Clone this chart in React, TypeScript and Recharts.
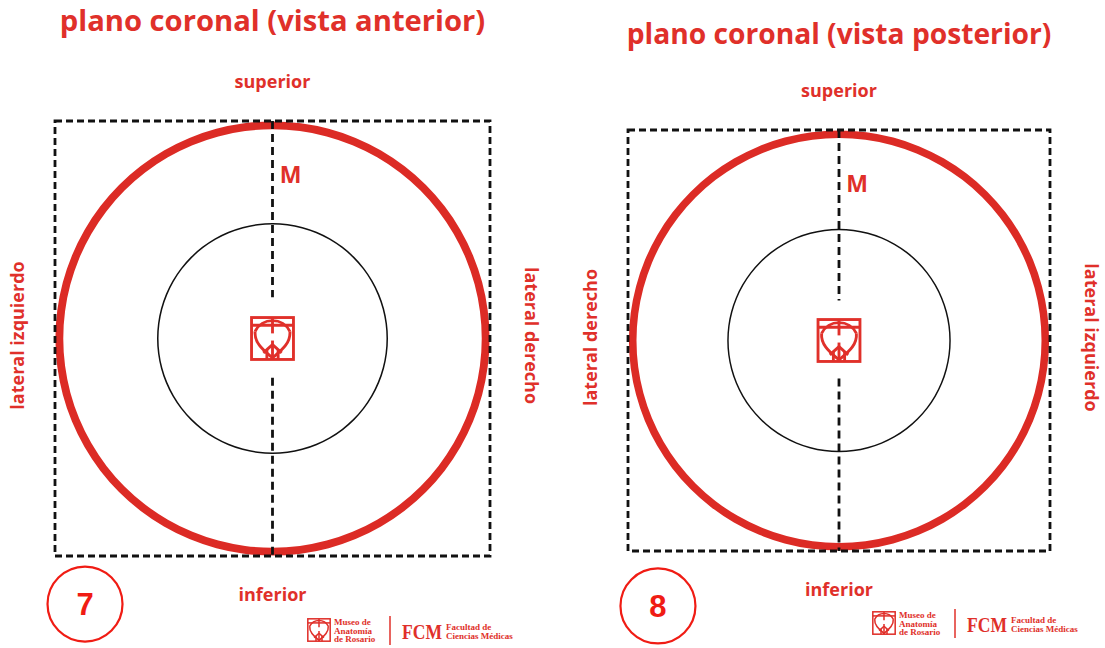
import {
  ComposedChart,
  XAxis,
  YAxis,
  ReferenceArea,
  ReferenceLine,
  ReferenceDot,
  Label,
  PieChart,
  Pie,
} from 'recharts';

const RED = '#e0302a';
const RING = '#dc2b25';
const BADGE = '#f01c14';
const INK = '#111111';
const SANS = '"Open Sans", "Noto Sans", sans-serif';
const SERIF = '"Liberation Serif", "DejaVu Serif", serif';

// two views of the same coronal plane
const titles = ['plano coronal (vista anterior)', 'plano coronal (vista posterior)'];
const plateNumbers = ['7', '8'];
const verticalLabels = ['superior', 'inferior'];
const sideLabels = [
  ['lateral izquierdo', 'lateral derecho'],
  ['lateral derecho', 'lateral izquierdo'],
];
const medianMark = 'M';

// plane in normalised units, box edge = ±1
const planeExtent = [-1, 1];
const medianGap = [0.19, -0.18]; // dashed median stops around the emblem
const ringShare = [{ v: 1 }]; // one full slice per ring

const museoLines = ['Museo de', 'Anatomía', 'de Rosario'];
const fcmLines = ['Facultad de', 'Ciencias Médicas'];

// layout of each panel (px)
const panels = [
  { left: 0, width: 552, box: { top: 121, left: 55, right: 62, bottom: 92 }, titleGap: 90, titleSize: 29.2, badge: [-0.862, -1.221] },
  { left: 552, width: 553, box: { top: 130, left: 76, right: 55, bottom: 97 }, titleGap: 86, titleSize: 28.2, badge: [-0.858, -1.261] },
];

function Emblem({ cx, cy, size }: { cx: number; cy: number; size: number }) {
  const k = size / 44;
  return (
    <g transform={`translate(${cx - size / 2},${cy - size / 2}) scale(${k})`} fill="none" stroke={RED} strokeWidth={2.8}>
      <rect x={1.5} y={1.5} width={41} height={41} fill="#fff" />
      <line x1={1.5} y1={9} x2={42.5} y2={9} />
      {/* circle above the bar, shield below it */}
      <path d="M 5 15 A 19 19 0 0 1 39 15" />
      <path d="M 5 15 C 4 27 14 34 22 41 C 30 34 40 27 39 15" />
      <line x1={22} y1={1.5} x2={22} y2={17} />
      <line x1={22} y1={24} x2={22} y2={42.5} />
      <line x1={22} y1={28} x2={13} y2={36} />
      <line x1={22} y1={28} x2={31} y2={36} />
      <line x1={16.5} y1={33} x2={16.5} y2={42.5} />
      <line x1={27.5} y1={33} x2={27.5} y2={42.5} />
    </g>
  );
}

function PlaneText({ viewBox, index }: any) {
  const { x, y, width, height } = viewBox;
  const { titleGap, titleSize } = panels[index];
  const cx = x + width / 2;
  const cy = y + height / 2 - 3;
  const lx = x - 31;
  const rx = x + width + 35;
  const common = { fontFamily: SANS, fontWeight: 700, fill: RED, textAnchor: 'middle' as const };
  return (
    <g>
      <text x={cx} y={y - titleGap} fontSize={titleSize} {...common}>{titles[index]}</text>
      <text x={cx} y={y - 33} fontSize={18} {...common}>{verticalLabels[0]}</text>
      <text x={cx} y={y + height + 45} fontSize={18} {...common}>{verticalLabels[1]}</text>
      <text x={lx} y={cy} fontSize={18} transform={`rotate(-90 ${lx} ${cy})`} {...common}>
        {sideLabels[index][0]}
      </text>
      <text x={rx} y={cy} fontSize={18} transform={`rotate(90 ${rx} ${cy})`} {...common}>
        {sideLabels[index][1]}
      </text>
      <text x={cx + 18} y={y + 62} fontSize={23} {...common}>{medianMark}</text>
    </g>
  );
}

function Badge({ cx, cy, text }: any) {
  return (
    <g>
      <circle cx={cx} cy={cy} r={37.5} fill="#fff" stroke={BADGE} strokeWidth={2.2} />
      <text x={cx} y={cy + 11} textAnchor="middle" fontFamily='"Liberation Sans", Arial, sans-serif' fontWeight={700} fontSize={31} fill={BADGE}>
        {text}
      </text>
    </g>
  );
}

function PlanePanel({ index }: { index: number }) {
  const { left, width, box, badge } = panels[index];
  const height = 648;
  const side = width - box.left - box.right;
  const tall = height - box.top - box.bottom;
  return (
    <div style={{ position: 'absolute', left, top: 0, width, height }}>
      <div style={{ position: 'absolute', left: box.left, top: box.top }}>
        <PieChart width={side} height={tall} margin={{ top: 0, right: 0, bottom: 0, left: 0 }}>
          <Pie data={ringShare} dataKey="v" cx="50%" cy="50%" innerRadius="96.2%" outerRadius="99.8%" fill={RING} stroke="none" isAnimationActive={false} />
          <Pie data={ringShare} dataKey="v" cx="50%" cy="50%" innerRadius="52.4%" outerRadius="53.1%" fill={INK} stroke="none" isAnimationActive={false} />
        </PieChart>
      </div>
      <div style={{ position: 'absolute', left: 0, top: 0 }}>
        <ComposedChart width={width} height={height} margin={box} data={[]}>
          <XAxis type="number" dataKey="x" domain={planeExtent} hide allowDataOverflow />
          <YAxis type="number" dataKey="y" domain={planeExtent} hide allowDataOverflow />
          <ReferenceArea
            x1={planeExtent[0]}
            x2={planeExtent[1]}
            y1={planeExtent[0]}
            y2={planeExtent[1]}
            fill="none"
            fillOpacity={0}
            stroke={INK}
            strokeWidth={2.8}
            strokeDasharray="7 4"
            ifOverflow="visible"
          >
            <Label content={(p: any) => <PlaneText {...p} index={index} />} />
          </ReferenceArea>
          <ReferenceLine segment={[{ x: 0, y: planeExtent[1] }, { x: 0, y: medianGap[0] }]} stroke={INK} strokeWidth={2.8} strokeDasharray="8 5" />
          <ReferenceLine segment={[{ x: 0, y: medianGap[1] }, { x: 0, y: planeExtent[0] }]} stroke={INK} strokeWidth={2.8} strokeDasharray="8 5" />
          <ReferenceDot x={0} y={0} r={22} shape={(p: any) => <Emblem cx={p.cx} cy={p.cy} size={45} />} />
          <ReferenceDot
            x={badge[0]}
            y={badge[1]}
            r={38}
            ifOverflow="visible"
            shape={(p: any) => <Badge cx={p.cx} cy={p.cy} text={plateNumbers[index]} />}
          />
        </ComposedChart>
      </div>
    </div>
  );
}

function Footer({ left, top }: { left: number; top: number }) {
  return (
    <svg style={{ position: 'absolute', left, top }} width={210} height={36}>
      <Emblem cx={12} cy={20} size={24} />
      <text fontFamily={SERIF} fontWeight={700} fontSize={9} fill={RED}>
        {museoLines.map((t, i) => (
          <tspan key={t} x={27} y={15 + i * 8.5}>{t}</tspan>
        ))}
      </text>
      <line x1={83} y1={6} x2={83} y2={35} stroke={RED} strokeWidth={1.5} />
      <text x={95} y={29} fontFamily={SERIF} fontWeight={700} fontSize={21} fill={RED} textLength={40} lengthAdjust="spacingAndGlyphs">
        FCM
      </text>
      <text fontFamily={SERIF} fontWeight={700} fontSize={9} fill={RED}>
        {fcmLines.map((t, i) => (
          <tspan key={t} x={139} y={20 + i * 9}>{t}</tspan>
        ))}
      </text>
    </svg>
  );
}

export default function App() {
  return (
    <div style={{ position: 'absolute', left: 0, top: 0, width: 1105, height: 648, background: '#fff', overflow: 'hidden' }}>
      {panels.map((_, i) => (
        <PlanePanel key={i} index={i} />
      ))}
      <Footer left={307} top={610} />
      <Footer left={872} top={603} />
    </div>
  );
}
